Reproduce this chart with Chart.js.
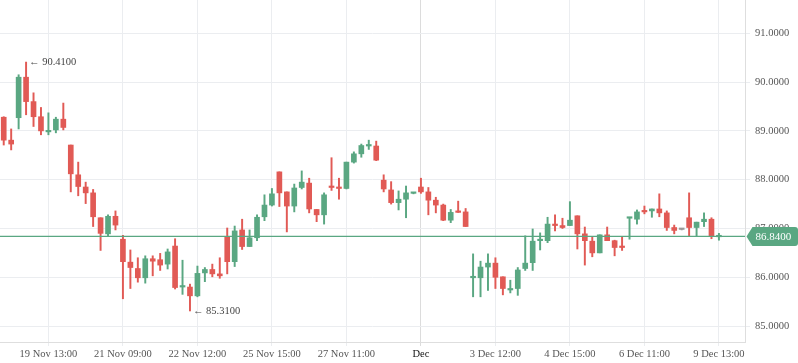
<!DOCTYPE html>
<html><head><meta charset="utf-8">
<script src="https://cdn.jsdelivr.net/npm/chart.js@4.4.0/dist/chart.umd.min.js"></script>
<style>html,body{margin:0;padding:0;background:#fff;overflow:hidden}</style>
</head><body>
<canvas id="c" width="798" height="363"></canvas>
<script>
// ---- data (OHLC per candle) ----
const opens  = [89.28,88.81,89.27,90.10,89.60,89.29,88.98,89.02,89.24,88.71,88.10,87.85,87.73,87.22,86.89,87.25,86.78,86.31,86.18,85.99,86.38,86.36,86.27,86.64,85.80,85.80,85.62,86.09,86.16,86.07,86.83,86.32,86.97,86.63,86.81,87.24,87.48,88.16,87.75,87.46,87.84,87.93,87.39,87.28,87.87,87.84,87.82,88.36,88.53,88.69,88.69,87.99,87.79,87.53,87.60,87.72,87.85,87.75,87.58,87.48,87.17,87.35,87.34,85.99,85.99,86.21,86.29,86.01,85.74,85.77,86.18,86.30,86.75,86.75,87.09,87.06,87.06,87.26,86.89,86.74,86.50,86.87,86.75,86.63,87.21,87.19,87.37,87.36,87.40,87.32,87.02,86.98,87.22,87.02,87.14,87.19,86.83];
const highs  = [89.29,89.04,90.15,90.41,89.78,89.48,89.37,89.28,89.57,88.71,88.36,87.95,87.80,87.22,87.28,87.36,86.86,86.56,86.40,86.44,86.44,86.49,86.58,86.79,86.35,85.86,86.23,86.20,86.27,86.40,87.01,87.05,87.19,86.97,87.28,87.69,87.82,88.16,87.75,87.91,88.18,88.03,87.39,87.73,88.45,88.03,88.36,88.57,88.73,88.81,88.79,88.10,87.96,87.77,87.87,87.74,88.03,87.84,87.64,87.50,87.39,87.56,87.41,86.48,86.33,86.48,86.40,86.01,85.94,86.20,86.85,86.99,86.91,87.23,87.28,87.21,87.55,87.26,87.03,86.83,86.87,87.03,86.76,86.83,87.23,87.38,87.46,87.40,87.71,87.36,87.07,86.99,87.73,87.13,87.32,87.22,86.90];
const lows   = [88.71,88.61,89.04,89.33,89.09,88.92,88.92,88.96,89.02,87.75,87.67,87.51,87.04,86.55,86.85,86.97,85.56,85.77,85.90,85.88,86.03,86.14,86.17,85.76,85.65,85.31,85.60,85.91,86.01,85.98,86.07,86.22,86.57,86.63,86.75,87.16,87.46,87.45,86.93,87.34,87.81,87.32,87.14,87.09,87.78,87.60,87.81,88.34,88.46,88.62,88.39,87.75,87.50,87.38,87.22,87.71,87.72,87.28,87.32,87.16,87.12,87.33,87.04,85.60,85.60,85.73,85.77,85.64,85.68,85.63,86.14,86.14,86.56,86.71,86.95,87.00,87.06,86.58,86.25,86.42,86.50,86.75,86.44,86.55,86.78,87.09,87.30,87.23,87.24,86.96,86.89,86.97,86.85,86.85,87.04,86.79,86.76];
const closes = [88.81,88.73,90.10,89.60,89.29,89.00,89.00,89.24,89.07,88.12,87.86,87.73,87.24,86.90,87.25,87.07,86.32,86.20,85.99,86.38,86.33,86.25,86.52,85.79,85.82,85.62,86.08,86.16,86.07,86.03,86.32,86.95,86.63,86.81,87.23,87.48,87.71,87.73,87.46,87.83,87.95,87.40,87.28,87.69,87.84,87.82,88.36,88.53,88.70,88.70,88.40,87.81,87.53,87.60,87.73,87.73,87.75,87.58,87.48,87.17,87.33,87.33,87.04,86.01,86.21,86.29,86.00,85.77,85.76,86.15,86.29,86.74,86.77,87.09,87.06,87.02,87.17,86.89,86.75,86.50,86.87,86.75,86.61,86.61,87.23,87.34,87.34,87.40,87.32,87.02,86.96,86.98,87.02,87.13,87.19,86.85,86.84];

const xTickIdx    = [6,16,26,36,46,56,66,76,86,96];
const xTickLabels = ['19 Nov 13:00','21 Nov 09:00','22 Nov 12:00','25 Nov 15:00','27 Nov 11:00','Dec','3 Dec 12:00','4 Dec 15:00','6 Dec 11:00','9 Dec 13:00'];
const yTicks      = [85,86,87,88,89,90,91];
const lastPrice   = 86.84;
const highMark    = {i:3,  v:90.41};
const lowMark     = {i:25, v:85.31};

const UP = '#5aa782', DOWN = '#e15a55', FLAT = '#9a9a9a';
const colors = opens.map((o,i)=> closes[i]>o ? UP : (closes[i]<o ? DOWN : FLAT));
const FONT = '"Liberation Serif", "DejaVu Serif", serif';

const overlay = {
  id:'overlay',
  afterDatasetsDraw(chart){
    const {ctx, scales:{x,y}} = chart;
    ctx.save();
    ctx.font = '10.5px ' + FONT;
    ctx.fillStyle = '#444';
    ctx.textBaseline = 'middle';
    ctx.textAlign = 'left';
    [highMark, lowMark].forEach(m=>{
      ctx.fillText('\u2190 ' + m.v.toFixed(4), x.getPixelForValue(m.i)+3, y.getPixelForValue(m.v));
    });
    ctx.restore();
  },
  afterDraw(chart){
    const {ctx, scales:{y}, chartArea} = chart;
    const py = Math.round(y.getPixelForValue(lastPrice)) + 0.5;
    const x0 = chartArea.right + 1.5, x1 = 798, h = 9.5, r = 3;
    ctx.save();
    ctx.fillStyle = UP;
    ctx.beginPath();
    ctx.moveTo(x0, py);
    ctx.lineTo(x0+6, py-h);
    ctx.lineTo(x1-r, py-h);
    ctx.quadraticCurveTo(x1, py-h, x1, py-h+r);
    ctx.lineTo(x1, py+h-r);
    ctx.quadraticCurveTo(x1, py+h, x1-r, py+h);
    ctx.lineTo(x0+6, py+h);
    ctx.closePath();
    ctx.fill();
    ctx.fillStyle = '#fff';
    ctx.font = '11px ' + FONT;
    ctx.textBaseline = 'middle';
    ctx.fillText(lastPrice.toFixed(4), x0+9, py+0.5);
    ctx.restore();
  }
};

new Chart(document.getElementById('c'), {
  type:'bar',
  data:{
    datasets:[
      {
        type:'line',
        data:[{x:-0.5,y:lastPrice},{x:99.5,y:lastPrice}],
        borderColor:UP, borderWidth:1.2, pointRadius:0, order:0
      },
      {
        data: lows.map((l,i)=>({x:i, y:[l, highs[i]]})),
        backgroundColor: colors, barThickness:1.3, grouped:false, order:2
      },
      {
        data: opens.map((o,i)=>({x:i, y:[o, closes[i]]})),
        backgroundColor: colors, barThickness:5, minBarLength:1.5, grouped:false, order:1
      }
    ]
  },
  options:{
    responsive:false, animation:false, devicePixelRatio:1,
    layout:{padding:0},
    plugins:{legend:{display:false}, tooltip:{enabled:false}},
    scales:{
      x:{
        type:'linear', min:-0.5, max:99.5, offset:false,
        afterBuildTicks(s){ s.ticks = xTickIdx.map(v=>({value:v})); },
        afterFit(s){ s.height = 21; s.paddingLeft = 0; s.paddingRight = 0; },
        ticks:{
          autoSkip:false, maxRotation:0, padding:2,
          font:{family:FONT, size:10.5},
          color:(c)=> xTickLabels[xTickIdx.indexOf(c.tick.value)]==='Dec' ? '#111' : '#555',
          callback:(v)=> xTickLabels[xTickIdx.indexOf(v)] ?? ''
        },
        grid:{
          offset:false,
          color:(c)=> c.tick && c.tick.value===56 ? '#dcdcdc' : '#ebedf0',
          lineWidth:1, tickLength:4
        },
        border:{color:'#dedede'}
      },
      y:{
        position:'right', min:84.674, max:91.682,
        afterBuildTicks(s){ s.ticks = yTicks.map(v=>({value:v})); },
        afterFit(s){ s.width = 53; s.paddingTop = 0; s.paddingBottom = 0; },
        ticks:{
          padding:5, font:{family:FONT, size:10.5}, color:'#555',
          callback:(v)=> Number(v).toFixed(4)
        },
        grid:{color:'#ebedf0', lineWidth:1, tickLength:5},
        border:{color:'#dedede'}
      }
    }
  },
  plugins:[overlay]
});
</script>
</body></html>
